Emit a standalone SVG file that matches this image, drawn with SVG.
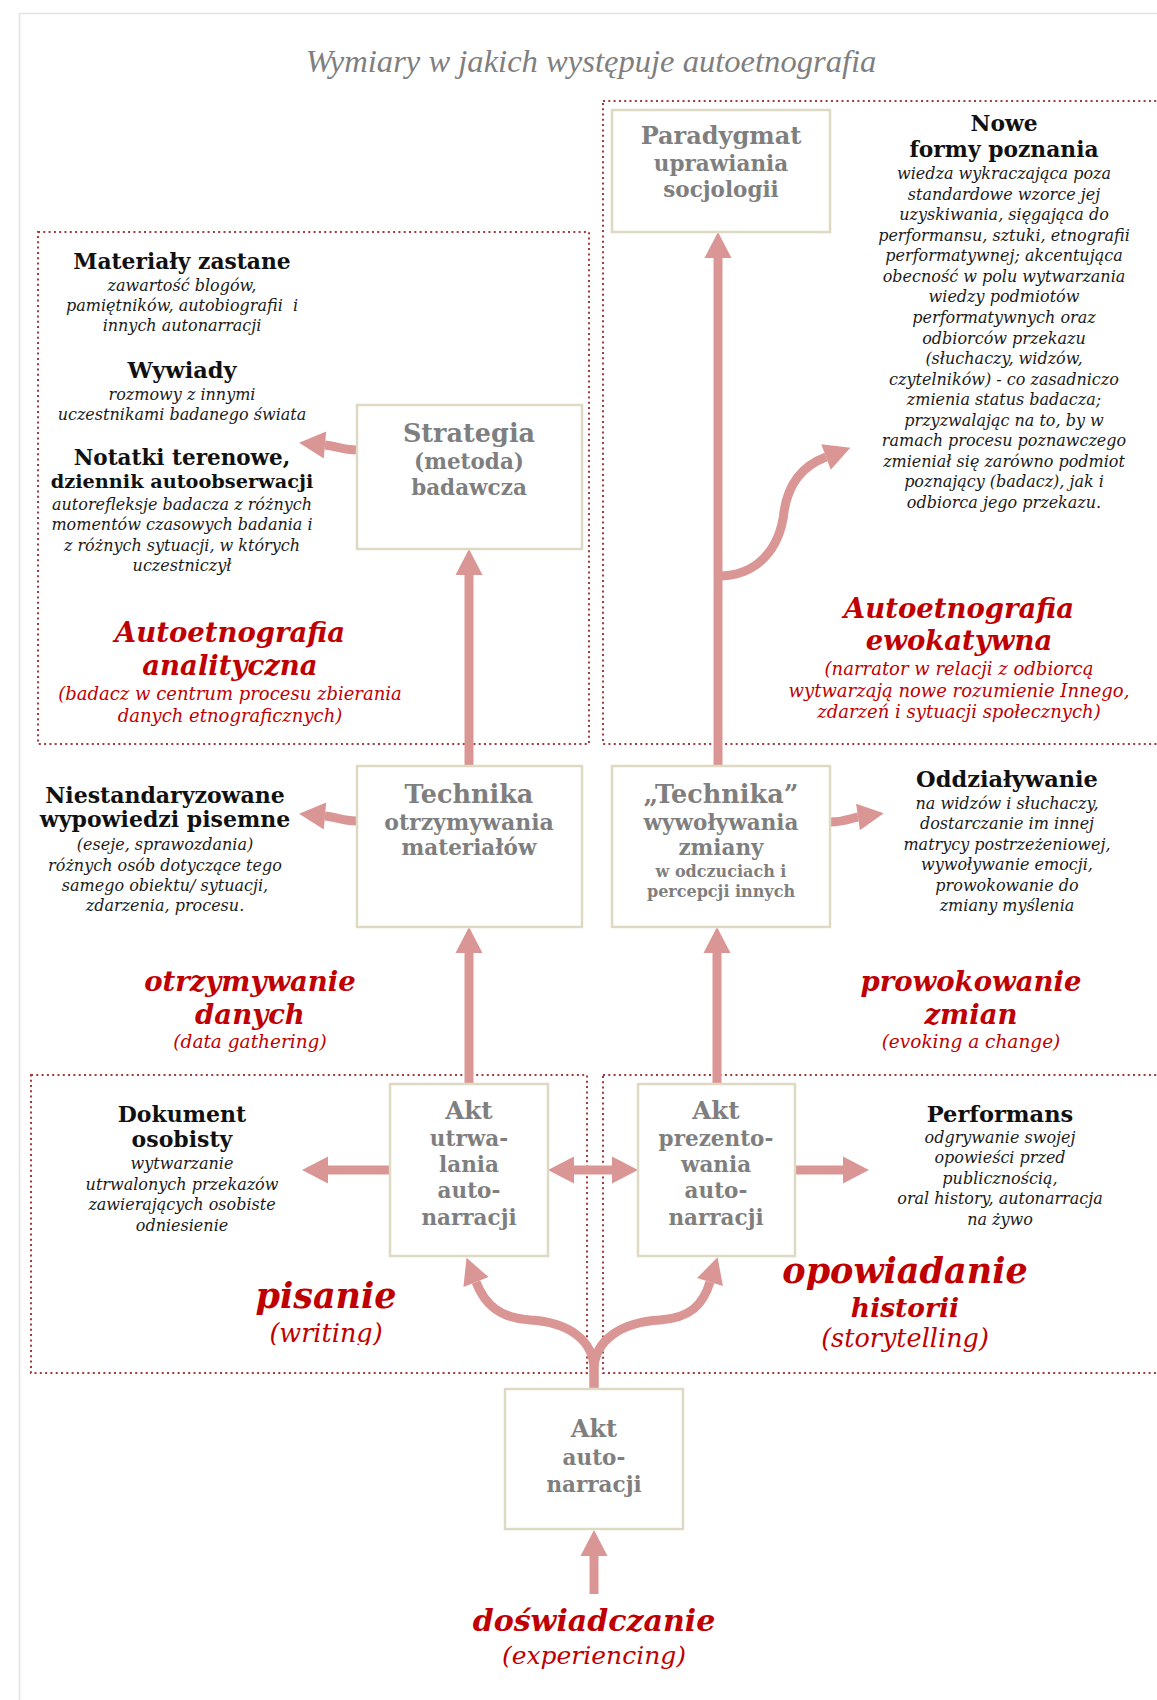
<svg xmlns="http://www.w3.org/2000/svg" width="1157" height="1700" viewBox="0 0 1157 1700">
<style>
text{font-family:"DejaVu Serif",serif;text-anchor:middle}
.title{font-family:"Liberation Serif",serif;font-style:italic;font-size:32.6px;fill:#7f7f7f}
.frame{fill:none;stroke:#e2e2e2;stroke-width:1.5}
.dot{fill:none;stroke:#a5393b;stroke-width:2;stroke-dasharray:2 3.3}
.box{fill:#fff;stroke:#ddd9c3;stroke-width:2.5}
.bt{font-weight:bold;fill:#7f7f7f;font-size:21.5px}
.bt1{font-size:25.5px}
.bs{font-size:16px}
.h{font-weight:bold;fill:#111;font-size:21.8px}
.it{font-style:italic;fill:#1a1a1a;font-size:16px}
.rh{font-weight:bold;font-style:italic;fill:#c00000}
.ri{font-style:italic;fill:#c00000;font-size:18px}
.arr{fill:none;stroke:#d99694;stroke-width:9}
</style>
<defs>
<marker id="ah" markerUnits="userSpaceOnUse" orient="auto" overflow="visible" refX="0" refY="0">
<path d="M0,-13.5 L26,0 L0,13.5 Z" fill="#d99694"/>
</marker>
<marker id="ahs" markerUnits="userSpaceOnUse" orient="auto-start-reverse" overflow="visible" refX="0" refY="0">
<path d="M0,-13.5 L26,0 L0,13.5 Z" fill="#d99694"/>
</marker>
<clipPath id="clipw"><rect x="200" y="1318" width="260" height="27"/></clipPath>
</defs>
<rect x="0" y="0" width="1157" height="1700" fill="#fff"/>
<rect class="frame" x="19.5" y="13.5" width="1200" height="1800"/>
<text class="title" x="591" y="72">Wymiary w jakich występuje autoetnografia</text>

<g id="regions">
<rect class="dot" x="603" y="101" width="570" height="643"/>
<rect class="dot" x="38" y="232" width="551" height="512"/>
<rect class="dot" x="31" y="1075" width="556" height="298"/>
<rect class="dot" x="603" y="1075" width="570" height="298"/>
</g>

<g id="connectors">
<path class="arr" d="M594,1594 L594,1556" marker-end="url(#ah)"/>
<path class="arr" d="M594,1389 L594,1370 C594,1340 568,1322 530,1320 C500,1318 485,1305 476,1282" marker-end="url(#ah)"/>
<path class="arr" d="M594,1389 L594,1370 C594,1340 622,1322 660,1320 C690,1318 703,1305 710,1282" marker-end="url(#ah)"/>
<path class="arr" d="M469,1084 L469,953" marker-end="url(#ah)"/>
<path class="arr" d="M469,766 L469,575" marker-end="url(#ah)"/>
<path class="arr" d="M717,1084 L717,953" marker-end="url(#ah)"/>
<path class="arr" d="M718,766 L718,258" marker-end="url(#ah)"/>
<path class="arr" d="M718,576 C758,576 780,548 784,512 C788,484 802,466 826,457" marker-end="url(#ah)"/>
<path class="arr" d="M357,450 C342,450 336,446 325,445" marker-end="url(#ah)"/>
<path class="arr" d="M357,821 C342,821 336,817 325,816" marker-end="url(#ah)"/>
<path class="arr" d="M830,822 C845,822 851,818 858,817" marker-end="url(#ah)"/>
<path class="arr" d="M390,1170 L328,1170" marker-end="url(#ah)"/>
<path class="arr" d="M574,1170 L612,1170" marker-start="url(#ahs)" marker-end="url(#ah)"/>
<path class="arr" d="M795,1170 L843,1170" marker-end="url(#ah)"/>
</g>

<g id="paradygmat">
<rect class="box" x="612" y="110" width="218" height="122"/>
<text class="bt" x="721" y="144" style="font-size:24px">Paradygmat</text>
<text class="bt" x="721" y="171">uprawiania</text>
<text class="bt" x="721" y="197">socjologii</text>
</g>

<g id="strategia">
<rect class="box" x="357" y="405" width="225" height="144"/>
<text class="bt" x="469" y="442" style="font-size:25.5px">Strategia</text>
<text class="bt" x="469" y="469">(metoda)</text>
<text class="bt" x="469" y="495">badawcza</text>
</g>

<g id="technika-otrzymywania">
<rect class="box" x="357" y="766" width="225" height="161"/>
<text class="bt bt1" x="469" y="803">Technika</text>
<text class="bt" x="469" y="830" style="font-size:22px">otrzymywania</text>
<text class="bt" x="469" y="855">materiałów</text>
</g>

<g id="technika-wywolywania">
<rect class="box" x="612" y="766" width="218" height="161"/>
<text class="bt bt1" x="721" y="803">„Technika”</text>
<text class="bt" x="721" y="830">wywoływania</text>
<text class="bt" x="721" y="855">zmiany</text>
<text class="bt bs" x="721" y="877">w odczuciach i</text>
<text class="bt bs" x="721" y="897">percepcji innych</text>
</g>

<g id="akt-utrwalania">
<rect class="box" x="390" y="1084" width="158" height="172"/>
<text class="bt" x="469" y="1119" style="font-size:24.5px">Akt</text>
<text class="bt" x="469" y="1146">utrwa-</text>
<text class="bt" x="469" y="1172">lania</text>
<text class="bt" x="469" y="1198">auto-</text>
<text class="bt" x="469" y="1225">narracji</text>
</g>

<g id="akt-prezentowania">
<rect class="box" x="638" y="1084" width="157" height="172"/>
<text class="bt" x="716" y="1119" style="font-size:24.5px">Akt</text>
<text class="bt" x="716" y="1146">prezento-</text>
<text class="bt" x="716" y="1172">wania</text>
<text class="bt" x="716" y="1198">auto-</text>
<text class="bt" x="716" y="1225">narracji</text>
</g>

<g id="akt-autonarracji">
<rect class="box" x="505" y="1389" width="178" height="140"/>
<text class="bt" x="594" y="1437" style="font-size:24px">Akt</text>
<text class="bt" x="594" y="1465">auto-</text>
<text class="bt" x="594" y="1492">narracji</text>
</g>

<g id="nowe-formy">
<text class="h" x="1004" y="131">Nowe</text>
<text class="h" x="1004" y="157">formy poznania</text>
<text class="it" x="1004" y="179">wiedza wykraczająca poza</text>
<text class="it" x="1004" y="199.6">standardowe wzorce jej</text>
<text class="it" x="1004" y="220.1">uzyskiwania, sięgająca do</text>
<text class="it" x="1004" y="240.7">performansu, sztuki, etnografii</text>
<text class="it" x="1004" y="261.2">performatywnej; akcentująca</text>
<text class="it" x="1004" y="281.8">obecność w polu wytwarzania</text>
<text class="it" x="1004" y="302.4">wiedzy podmiotów</text>
<text class="it" x="1004" y="322.9">performatywnych oraz</text>
<text class="it" x="1004" y="343.5">odbiorców przekazu</text>
<text class="it" x="1004" y="364">(słuchaczy, widzów,</text>
<text class="it" x="1004" y="384.6">czytelników) - co zasadniczo</text>
<text class="it" x="1004" y="405.2">zmienia status badacza;</text>
<text class="it" x="1004" y="425.7">przyzwalając na to, by w</text>
<text class="it" x="1004" y="446.3">ramach procesu poznawczego</text>
<text class="it" x="1004" y="466.8">zmieniał się zarówno podmiot</text>
<text class="it" x="1004" y="487.4">poznający (badacz), jak i</text>
<text class="it" x="1004" y="508">odbiorca jego przekazu.</text>
</g>

<g id="materialy">
<text class="h" x="182" y="269">Materiały zastane</text>
<text class="it" x="182" y="291">zawartość blogów,</text>
<text class="it" x="182" y="311" xml:space="preserve">pamiętników, autobiografii  i</text>
<text class="it" x="182" y="331">innych autonarracji</text>
<text class="h" x="182" y="378" style="font-size:22.5px">Wywiady</text>
<text class="it" x="182" y="400">rozmowy z innymi</text>
<text class="it" x="182" y="420">uczestnikami badanego świata</text>
<text class="h" x="182" y="465" style="font-size:21.5px">Notatki terenowe,</text>
<text class="h" x="182" y="488" style="font-size:19.3px">dziennik autoobserwacji</text>
<text class="it" x="182" y="510">autorefleksje badacza z różnych</text>
<text class="it" x="182" y="530">momentów czasowych badania i</text>
<text class="it" x="182" y="551">z różnych sytuacji, w których</text>
<text class="it" x="182" y="571">uczestniczył</text>
</g>

<g id="analityczna">
<text class="rh" x="230" y="642" style="font-size:27.5px">Autoetnografia</text>
<text class="rh" x="230" y="675" style="font-size:27.5px">analityczna</text>
<text class="ri" x="230" y="700">(badacz w centrum procesu zbierania</text>
<text class="ri" x="230" y="722">danych etnograficznych)</text>
</g>

<g id="ewokatywna">
<text class="rh" x="959" y="618" style="font-size:27.5px">Autoetnografia</text>
<text class="rh" x="959" y="650" style="font-size:27.5px">ewokatywna</text>
<text class="ri" x="959" y="675">(narrator w relacji z odbiorcą</text>
<text class="ri" x="959" y="697">wytwarzają nowe rozumienie Innego,</text>
<text class="ri" x="959" y="718">zdarzeń i sytuacji społecznych)</text>
</g>

<g id="niestandaryzowane">
<text class="h" x="165" y="803" style="font-size:22px">Niestandaryzowane</text>
<text class="h" x="165" y="827" style="font-size:22px">wypowiedzi pisemne</text>
<text class="it" x="165" y="850">(eseje, sprawozdania)</text>
<text class="it" x="165" y="871">różnych osób dotyczące tego</text>
<text class="it" x="165" y="891">samego obiektu/ sytuacji,</text>
<text class="it" x="165" y="911">zdarzenia, procesu.</text>
</g>

<g id="oddzialywanie">
<text class="h" x="1007" y="787" style="font-size:22.5px">Oddziaływanie</text>
<text class="it" x="1007" y="809">na widzów i słuchaczy,</text>
<text class="it" x="1007" y="829">dostarczanie im innej</text>
<text class="it" x="1007" y="850">matrycy postrzeżeniowej,</text>
<text class="it" x="1007" y="870">wywoływanie emocji,</text>
<text class="it" x="1007" y="891">prowokowanie do</text>
<text class="it" x="1007" y="911">zmiany myślenia</text>
</g>

<g id="otrzymywanie-danych">
<text class="rh" x="250" y="991" style="font-size:27.5px">otrzymywanie</text>
<text class="rh" x="250" y="1023.5" style="font-size:27.5px">danych</text>
<text class="ri" x="250" y="1048" style="font-size:18.5px">(data gathering)</text>
</g>

<g id="prowokowanie-zmian">
<text class="rh" x="971" y="991" style="font-size:27.5px">prowokowanie</text>
<text class="rh" x="971" y="1023.5" style="font-size:27.5px">zmian</text>
<text class="ri" x="971" y="1048" style="font-size:18.5px">(evoking a change)</text>
</g>

<g id="dokument">
<text class="h" x="182" y="1122" style="font-size:22px">Dokument</text>
<text class="h" x="182" y="1147" style="font-size:22px">osobisty</text>
<text class="it" x="182" y="1169">wytwarzanie</text>
<text class="it" x="182" y="1190">utrwalonych przekazów</text>
<text class="it" x="182" y="1210">zawierających osobiste</text>
<text class="it" x="182" y="1231">odniesienie</text>
</g>

<g id="performans">
<text class="h" x="1000" y="1122" style="font-size:22.5px">Performans</text>
<text class="it" x="1000" y="1143">odgrywanie swojej</text>
<text class="it" x="1000" y="1163">opowieści przed</text>
<text class="it" x="1000" y="1184">publicznością,</text>
<text class="it" x="1000" y="1204">oral history, autonarracja</text>
<text class="it" x="1000" y="1225">na żywo</text>
</g>

<g id="pisanie">
<text class="rh" x="326" y="1308" style="font-size:35px">pisanie</text>
<text class="ri" x="326" y="1342" style="font-size:25.5px" clip-path="url(#clipw)">(writing)</text>
</g>

<g id="opowiadanie">
<text class="rh" x="905" y="1283" style="font-size:35px">opowiadanie</text>
<text class="rh" x="905" y="1317" style="font-size:26.5px">historii</text>
<text class="ri" x="905" y="1347" style="font-size:25.5px">(storytelling)</text>
</g>

<g id="doswiadczanie">
<text class="rh" x="594" y="1631" style="font-size:30px">doświadczanie</text>
<text class="ri" x="594" y="1664" style="font-size:25px">(experiencing)</text>
</g>
</svg>
